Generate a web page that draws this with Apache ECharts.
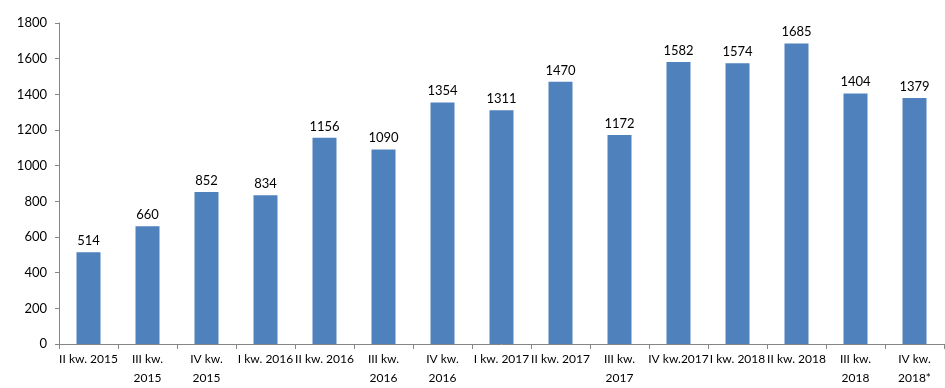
<!DOCTYPE html>
<html><head><meta charset="utf-8">
<script src="https://cdn.jsdelivr.net/npm/echarts@6/dist/echarts.min.js"></script>
<style>html,body{margin:0;padding:0;background:#fff}#c{width:945px;height:388px}</style>
</head><body><div id="c"></div>
<script>
const categories = ["II kw. 2015","III kw.\n2015","IV kw.\n2015","I kw. 2016","II kw. 2016","III kw.\n2016","IV kw.\n2016","I kw. 2017","II kw. 2017","III kw.\n2017","IV kw.2017","I kw. 2018","II kw. 2018","III kw.\n2018","IV kw.\n2018*"];
const values = [514,660,852,834,1156,1090,1354,1311,1470,1172,1582,1574,1685,1404,1379];
const yMin = 0, yMax = 1800, yStep = 200;
const font = 'Lato, "Open Sans", sans-serif';
const chart = echarts.init(document.getElementById('c'));
chart.setOption({
  animation:false,
  grid:{left:59,right:1,top:23,bottom:41,containLabel:false},
  xAxis:{type:'category',data:categories,
    axisLine:{lineStyle:{color:'#868686'}},
    axisTick:{show:true,alignWithLabel:false,length:5,lineStyle:{color:'#868686'}},
    axisLabel:{interval:0,color:'#000',fontFamily:font,fontSize:12,lineHeight:19,margin:6}},
  yAxis:{type:'value',min:yMin,max:yMax,interval:yStep,
    axisLine:{show:true,lineStyle:{color:'#868686'}},
    axisTick:{show:true,length:4,lineStyle:{color:'#868686'}},
    splitLine:{show:false},
    axisLabel:{color:'#000',fontFamily:font,fontSize:13,margin:12,formatter:v=>String(v)}},
  series:[{type:'bar',data:values,barWidth:24,
    itemStyle:{color:'#4F81BD'},
    label:{show:true,position:'top',distance:5,color:'#000',fontFamily:font,fontSize:13}}]
});
</script></body></html>
